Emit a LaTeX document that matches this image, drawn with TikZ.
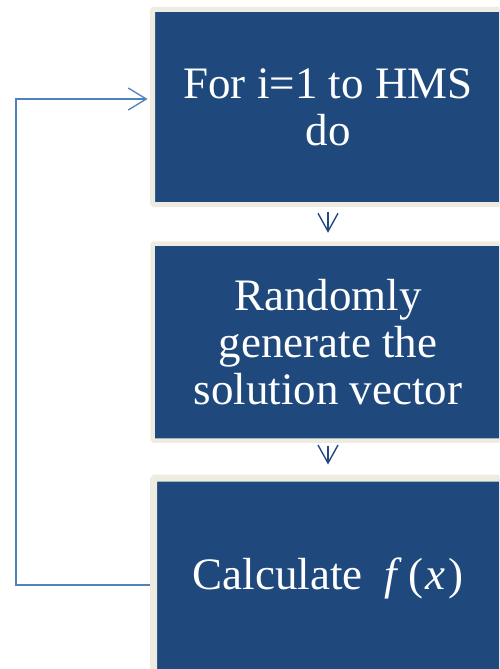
\documentclass[tikz,border=0pt]{standalone}
\usepackage{fontspec}
\setmainfont{Liberation Serif}
\usetikzlibrary{arrows.meta,calc}
\definecolor{boxblue}{HTML}{1F497C}
\definecolor{framecream}{HTML}{EEECE1}
\definecolor{stepline}{HTML}{23497E}
\definecolor{loopline}{HTML}{4F81BD}
\tikzset{
  stepbox/.style={rectangle, fill=boxblue, draw=framecream, line width=5pt,
    rounded corners=1.5pt, text=white, align=center, inner sep=0pt,
    font=\fontsize{45}{47}\selectfont},
  downarrow/.style={draw=stepline, line width=1.4pt,
    -{Straight Barb[length=18pt,width=20pt,line width=1.4pt]}},
  looparrow/.style={draw=loopline, line width=1.3pt,
    -{Straight Barb[length=18pt,width=22pt,line width=1.3pt]}},
}
\begin{document}
\begin{tikzpicture}[x=1pt,y=-1pt]
  \useasboundingbox[fill=white] (0,0) rectangle (499,669);
  \begin{scope}
    \clip (0,0) rectangle (499,669);
    \node[stepbox, minimum width=351pt, minimum height=195pt] (b1) at (328,107)
      {For i=1 to HMS\\do};
    \node[stepbox, line width=4.5pt, minimum width=351pt, minimum height=197pt] (b2) at (328,342)
      {Randomly\\generate the\\solution vector};
    \node[stepbox, line width=7pt, minimum width=349pt, minimum height=200pt] (b3) at (328,578)
      {Calculate\hspace{0.5em}{\itshape f\/}\kern0.12em(\kern0.06em{\itshape x\/}\kern0.06em)};
  \end{scope}
  \draw[downarrow] ($(b1.south)+(0,4.5)$) -- ($(b2.north)+(0,-8.5)$);
  \draw[downarrow] ($(b2.south)+(0,3)$) -- ($(b3.north)+(0,-10)$);
  \coordinate (loopfrom) at ($(b3.west)+(0,7)$);
  \coordinate (loopto) at ($(b1.west)+(-2.5,-8)$);
  \draw[looparrow] (loopfrom) -- (16,585) -- (16,99) -- (loopto);
\end{tikzpicture}
\end{document}
